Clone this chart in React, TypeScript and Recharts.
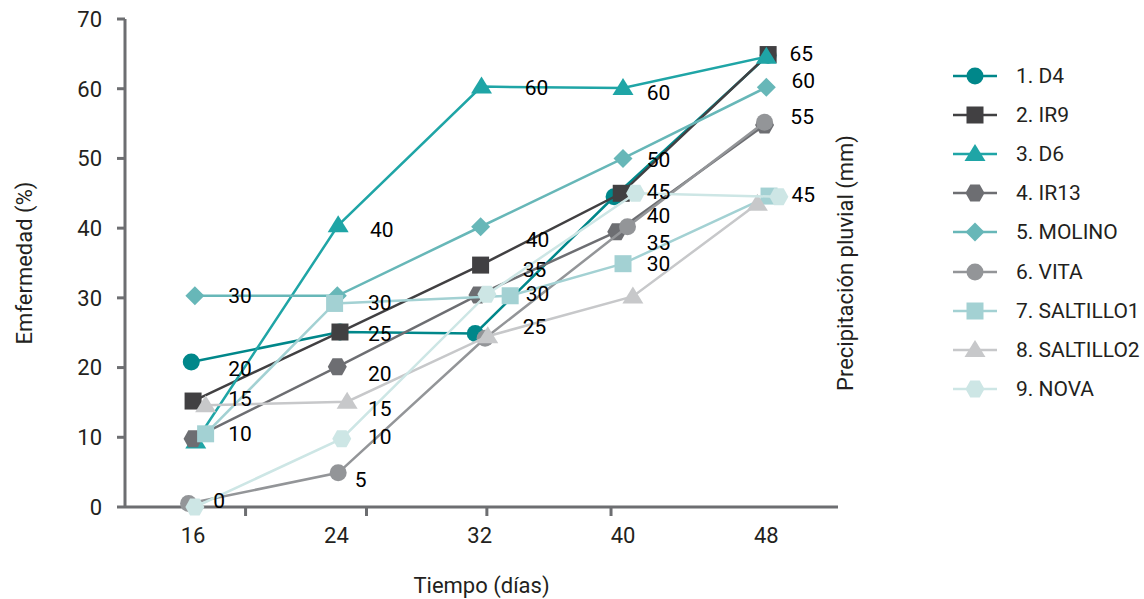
import React from 'react';
import { ScatterChart, Scatter, XAxis, YAxis, Legend, Label } from 'recharts';

const FONT = 'Roboto, "DejaVu Sans", sans-serif';
const AXIS = '#6d6e71';
const INK = '#231f20';

// ---- series meta ----
const seriesNames = ['1. D4', '2. IR9', '3. D6', '4. IR13', '5. MOLINO', '6. VITA', '7. SALTILLO1', '8. SALTILLO2', '9. NOVA'];
const seriesColors = ['#00878a', '#414042', '#1fa5a6', '#6d6e72', '#67b7b8', '#939598', '#a3d1d3', '#c7c8ca', '#cde6e5'];
const seriesMarkers = ['circle', 'square', 'triangle', 'hexagon', 'diamond', 'circle', 'square', 'triangle', 'hexagon'];

// ---- series values (days, %) ----
const d4Days = [15.9, 24.2, 31.75, 39.5, 48.1];
const d4Values = [20.8, 25.1, 24.9, 44.5, 64.8];
const ir9Days = [16.0, 24.2, 32.05, 39.9, 48.1];
const ir9Values = [15.2, 25.1, 34.7, 45.0, 64.9];
const d6Days = [16.15, 24.1, 32.1, 40.0, 48.0];
const d6Values = [9.4, 40.4, 60.3, 60.1, 64.6];
const ir13Days = [16.0, 24.05, 31.9, 39.65, 47.9];
const ir13Values = [9.8, 20.1, 30.4, 39.5, 54.8];
const molinoDays = [16.1, 24.05, 32.05, 40.0, 48.0];
const molinoValues = [30.3, 30.3, 40.2, 50.0, 60.2];
const vitaDays = [15.75, 24.1, 32.3, 40.25, 47.9];
const vitaValues = [0.5, 4.9, 24.2, 40.2, 55.2];
const saltillo1Days = [16.7, 23.9, 33.7, 40.0, 48.15];
const saltillo1Values = [10.5, 29.2, 30.3, 34.9, 44.6];
const saltillo2Days = [16.7, 24.6, 32.45, 40.55, 47.5];
const saltillo2Values = [14.6, 15.1, 24.5, 30.2, 43.5];
const novaDays = [16.1, 24.3, 32.4, 40.7, 48.7];
const novaValues = [0, 9.8, 30.5, 45.0, 44.5];

const seriesDays = [d4Days, ir9Days, d6Days, ir13Days, molinoDays, vitaDays, saltillo1Days, saltillo2Days, novaDays];
const seriesValues = [d4Values, ir9Values, d6Values, ir13Values, molinoValues, vitaValues, saltillo1Values, saltillo2Values, novaValues];

// ---- data labels (placed in chart units) ----
const labelDays = [18.62, 18.62, 18.62, 18.62, 17.45, 26.53, 26.42, 26.42, 26.42, 26.42, 26.42, 25.36, 35.17, 35.23, 35.06, 35.23, 35.06, 41.98, 41.98, 41.98, 41.98, 41.98, 41.98, 49.95, 50.06, 50.0, 50.06];
const labelValues = [30.4, 19.9, 15.6, 10.6, 0.96, 39.8, 29.3, 24.9, 19.2, 14.1, 10.05, 3.9, 60.1, 38.3, 34.1, 30.6, 25.85, 59.4, 49.8, 45.2, 41.8, 38.0, 34.9, 65.1, 61.2, 56.0, 44.8];
const labelTexts = ['30', '20', '15', '10', '0', '40', '30', '25', '20', '15', '10', '5', '60', '40', '35', '30', '25', '60', '50', '45', '40', '35', '30', '65', '60', '55', '45'];

// ---- axes ----
const dayTickLabels = [16, 24, 32, 40, 48];
const dayTickMarks = [18.93, 25.68, 32.4, 39.33];
const percentTicks = [0, 10, 20, 30, 40, 50, 60, 70];

function Marker({ kind, cx, cy, color }: { kind: string; cx: number; cy: number; color: string }) {
  if (cx == null || cy == null) return null;
  switch (kind) {
    case 'circle':
      return <circle cx={cx} cy={cy} r={8.5} fill={color} />;
    case 'square':
      return <rect x={cx - 8.5} y={cy - 8.5} width={17} height={17} fill={color} />;
    case 'triangle':
      return <polygon points={`${cx},${cy - 10} ${cx + 10.5},${cy + 7} ${cx - 10.5},${cy + 7}`} fill={color} />;
    case 'diamond':
      return <polygon points={`${cx},${cy - 9.5} ${cx + 9.5},${cy} ${cx},${cy + 9.5} ${cx - 9.5},${cy}`} fill={color} />;
    case 'hexagon':
      return (
        <polygon
          points={`${cx - 9.5},${cy} ${cx - 4.75},${cy - 8.5} ${cx + 4.75},${cy - 8.5} ${cx + 9.5},${cy} ${cx + 4.75},${cy + 8.5} ${cx - 4.75},${cy + 8.5}`}
          fill={color}
        />
      );
    default:
      return null;
  }
}

function XTick(props: any) {
  const { x, y, payload } = props;
  const v = payload?.value;
  if (dayTickMarks.includes(v)) {
    return <line x1={x} x2={x} y1={y} y2={y + 9} stroke={AXIS} strokeWidth={3} />;
  }
  return (
    <text x={x} y={y + 36} textAnchor="middle" fill={INK} fontSize={22} fontFamily={FONT}>
      {v}
    </text>
  );
}

function LegendContent() {
  return (
    <div style={{ fontFamily: FONT, fontSize: 21, color: INK }}>
      {seriesNames.map((n, i) => (
        <div key={n} style={{ display: 'flex', alignItems: 'center', height: 39.2 }}>
          <svg width={44} height={22} style={{ overflow: 'visible' }}>
            <line x1={0} x2={44} y1={11} y2={11} stroke={seriesColors[i]} strokeWidth={2.5} />
            <Marker kind={seriesMarkers[i]} cx={22} cy={11} color={seriesColors[i]} />
          </svg>
          <span style={{ marginLeft: 19, lineHeight: '22px' }}>{n}</span>
        </div>
      ))}
    </div>
  );
}

const titleStyle = { fill: INK, fontSize: 22, fontFamily: FONT } as const;

export default function App() {
  const labelData = labelDays.map((d, i) => ({ x: d, y: labelValues[i], text: labelTexts[i] }));
  return (
    <div style={{ position: 'absolute', left: 0, top: 0, width: 1144, height: 599, background: '#fff' }}>
      <ScatterChart width={1144} height={599} margin={{ top: 19, right: 266, bottom: 0, left: 0 }}>
        <XAxis
          type="number"
          dataKey="x"
          domain={[12.2, 52]}
          ticks={[...dayTickLabels, ...dayTickMarks].sort((a, b) => a - b)}
          interval={0}
          tick={<XTick />}
          tickLine={false}
          tickSize={0}
          tickMargin={0}
          axisLine={{ stroke: AXIS, strokeWidth: 3 }}
          height={92}
          allowDataOverflow
        >
          <Label
            content={(p: any) => {
              const vb = p.viewBox || {};
              const cx = (vb.x ?? 125) + (vb.width ?? 713) / 2;
              const cy = (vb.y ?? 506.7) + (vb.height ?? 92) - 6;
              return (
                <text x={cx} y={cy} textAnchor="middle" {...titleStyle}>
                  Tiempo (días)
                </text>
              );
            }}
          />
        </XAxis>
        <YAxis
          yAxisId={0}
          type="number"
          dataKey="y"
          domain={[0, 70]}
          ticks={percentTicks}
          interval={0}
          width={125}
          tickSize={8}
          tickMargin={15}
          tickLine={{ stroke: AXIS, strokeWidth: 3 }}
          axisLine={{ stroke: AXIS, strokeWidth: 3 }}
          tick={{ fill: INK, fontSize: 22, fontFamily: FONT }}
        >
          <Label
            content={(p: any) => {
              const vb = p.viewBox || {};
              const cx = (vb.x ?? 0) + 32;
              const cy = (vb.y ?? 19) + (vb.height ?? 487.7) / 2;
              return (
                <text x={cx} y={cy} textAnchor="middle" transform={`rotate(-90 ${cx} ${cy})`} {...titleStyle}>
                  Emfermedad (%)
                </text>
              );
            }}
          />
        </YAxis>
        <YAxis
          yAxisId="right"
          orientation="right"
          type="number"
          domain={[0, 70]}
          width={40}
          tick={false}
          tickLine={false}
          axisLine={false}
        >
          <Label
            content={(p: any) => {
              const vb = p.viewBox || {};
              const cx = (vb.x ?? 838) + 15;
              const cy = (vb.y ?? 19) + (vb.height ?? 487.7) / 2;
              return (
                <text x={cx} y={cy} textAnchor="middle" transform={`rotate(-90 ${cx} ${cy})`} {...titleStyle}>
                  Precipitación pluvial (mm)
                </text>
              );
            }}
          />
        </YAxis>
        <Legend
          layout="vertical"
          align="center"
          verticalAlign="middle"
          content={<LegendContent />}
          wrapperStyle={{ position: 'absolute', left: 953, top: 56, width: 191 }}
        />
        {seriesNames.map((name, i) => (
          <Scatter
            key={name}
            name={name}
            yAxisId={0}
            data={seriesDays[i].map((d, j) => ({ x: d, y: seriesValues[i][j] }))}
            fill={seriesColors[i]}
            line={{ stroke: seriesColors[i], strokeWidth: 2.5 }}
            lineType="joint"
            shape={(p: any) => <Marker kind={seriesMarkers[i]} cx={p.cx} cy={p.cy} color={seriesColors[i]} />}
            isAnimationActive={false}
          />
        ))}
        <Scatter
          name="labels"
          yAxisId={0}
          data={labelData}
          legendType="none"
          shape={(p: any) => (
            <text x={p.cx} y={p.cy} dy="0.355em" textAnchor="middle" fill="#000" fontSize={21} fontFamily={FONT}>
              {p.payload?.text ?? p.text}
            </text>
          )}
          isAnimationActive={false}
        />
      </ScatterChart>
    </div>
  );
}
